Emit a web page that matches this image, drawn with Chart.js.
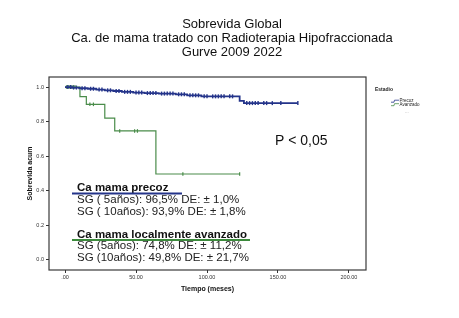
<!DOCTYPE html>
<html>
<head>
<meta charset="utf-8">
<script src="https://cdn.jsdelivr.net/npm/chart.js@4.4.1/dist/chart.umd.min.js"></script>
<style>
  html, body { margin: 0; padding: 0; background: #ffffff; }
  #contenedor { width: 459px; height: 318px; }
</style>
</head>
<body>
<div id="contenedor"><canvas id="graficoSobrevida" width="459" height="318"></canvas></div>
<script>
// curva Kaplan-Meier, estadio precoz (meses / sobrevida acumulada)
const precozTiempo = [0, 5, 10, 16, 22, 28, 34, 40, 48, 56, 66, 78, 86, 96, 123, 126, 164];
const precozSobrevida = [1.0, 0.997, 0.993, 0.99, 0.985, 0.981, 0.977, 0.972, 0.968, 0.965, 0.962, 0.958, 0.952, 0.946, 0.92, 0.907, 0.907];
const precozCensura = [2, 4, 6, 8, 12, 14, 18, 20, 24, 26, 30, 32, 36, 38, 42, 44, 46, 50, 52, 54, 58, 60, 62, 64, 68, 70, 72, 74, 76, 80, 82, 84, 88, 90, 92, 94, 98, 100, 104, 106, 108, 110, 112, 116, 118, 128, 130, 132, 134, 136, 140, 142, 146, 152, 164];

// estadio avanzado
const avanzadoTiempo = [0, 10.5, 15, 28, 35, 64, 123];
const avanzadoSobrevida = [1.0, 0.945, 0.90, 0.82, 0.746, 0.497, 0.497];
const avanzadoCensura = [1, 2, 3, 4, 5, 6, 7, 17.5, 20, 38.5, 49, 51, 83, 123];

const ticksX = [0, 50, 100, 150, 200];
const etiquetasX = ['.00', '50.00', '100.00', '150.00', '200.00'];
const ticksY = [0, 0.2, 0.4, 0.6, 0.8, 1.0];
const etiquetasY = ['0.0', '0.2', '0.4', '0.6', '0.8', '1.0'];

const titulo = ['Sobrevida Global', 'Ca. de mama tratado con Radioterapia Hipofraccionada', 'Gurve 2009 2022'];
const textoPrecoz = ['Ca mama precoz', 'SG ( 5años): 96,5% DE: ± 1,0%', 'SG ( 10años): 93,9% DE: ± 1,8%'];
const textoAvanzado = ['Ca mama localmente avanzado', 'SG (5años): 74,8% DE: ± 11,2%', 'SG (10años): 49,8% DE: ± 21,7%'];

const azul = '#24348a';
const verde = '#4a8c4a';
const fuente = '"Liberation Sans", Arial, sans-serif';

function valorEn(tiempos, valores, t){
    let v = valores[0];
    for (let i = 0; i < tiempos.length; i++) {
        if (tiempos[i] <= t) v = valores[i];
    }
    return v;
}

const curvaPrecoz = precozTiempo.map((t, i) => ({ x: t, y: precozSobrevida[i] }));
const curvaAvanzado = avanzadoTiempo.map((t, i) => ({ x: t, y: avanzadoSobrevida[i] }));
const marcasPrecoz = precozCensura.map(t => ({ x: t, y: valorEn(precozTiempo, precozSobrevida, t) }));
const marcasAvanzado = avanzadoCensura.map(t => ({ x: t, y: valorEn(avanzadoTiempo, avanzadoSobrevida, t) }));

const textos = {
    id: 'textos',
    afterDraw(chart){
        const ctx = chart.ctx;
        const a = chart.chartArea;
        ctx.save();

        // marco del grafico
        ctx.strokeStyle = '#3a3a3a';
        ctx.lineWidth = 1.2;
        ctx.strokeRect(a.left, a.top, a.right - a.left, a.bottom - a.top);

        // titulo
        ctx.fillStyle = '#111';
        ctx.textAlign = 'center';
        ctx.textBaseline = 'middle';
        ctx.font = '13px ' + fuente;
        titulo.forEach((t, i) => ctx.fillText(t, 232, 24 + i * 14.3));

        // p valor
        ctx.textAlign = 'left';
        ctx.font = '14px ' + fuente;
        ctx.fillText('P < 0,05', 275, 141);

        // bloques de texto
        ctx.textBaseline = 'alphabetic';
        ctx.font = 'bold 11.5px ' + fuente;
        ctx.fillText(textoPrecoz[0], 77, 191);
        ctx.fillText(textoAvanzado[0], 77, 237.5);
        ctx.font = '11.5px ' + fuente;
        ctx.fillStyle = '#222';
        ctx.fillText(textoPrecoz[1], 77, 203);
        ctx.fillText(textoPrecoz[2], 77, 214.5);
        ctx.fillText(textoAvanzado[1], 77, 249);
        ctx.fillText(textoAvanzado[2], 77, 261);

        ctx.lineWidth = 2;
        ctx.strokeStyle = azul;
        ctx.beginPath(); ctx.moveTo(72, 193.5); ctx.lineTo(182, 193.5); ctx.stroke();
        ctx.strokeStyle = '#3c8a3c';
        ctx.beginPath(); ctx.moveTo(72, 240); ctx.lineTo(250, 240); ctx.stroke();

        // leyenda
        ctx.fillStyle = '#222';
        ctx.font = 'bold 5px ' + fuente;
        ctx.textBaseline = 'middle';
        ctx.fillText('Estadio', 375, 90);
        ctx.font = '4.5px ' + fuente;
        [['Precoz', azul, 101], ['Avanzado', verde, 104.5]].forEach(function(e){
            ctx.strokeStyle = e[1];
            ctx.lineWidth = 0.8;
            ctx.beginPath();
            ctx.moveTo(391, e[2] + 1.2);
            ctx.lineTo(394, e[2] + 1.2);
            ctx.lineTo(394.5, e[2] - 0.8);
            ctx.lineTo(399, e[2] - 0.8);
            ctx.stroke();
            ctx.fillText(e[0], 399.5, e[2]);
        });
        ctx.fillStyle = '#999';
        ctx.fillText('...', 405, 112);

        ctx.restore();
    }
};

const ctx = document.getElementById('graficoSobrevida');

new Chart(ctx, {
    plugins: [textos],
    type: 'line',
    data: {
        datasets: [
            {
                label: 'Precoz',
                data: curvaPrecoz,
                stepped: 'before',
                borderColor: azul,
                borderWidth: 1.8,
                pointRadius: 0,
                fill: false
            },
            {
                label: 'Avanzado',
                data: curvaAvanzado,
                stepped: 'before',
                borderColor: verde,
                borderWidth: 1.2,
                pointRadius: 0,
                fill: false
            },
            {
                label: 'Precoz censurado',
                data: marcasPrecoz,
                showLine: false,
                pointStyle: 'line',
                rotation: 90,
                pointRadius: 2,
                borderColor: azul,
                borderWidth: 1.4
            },
            {
                label: 'Avanzado censurado',
                data: marcasAvanzado,
                showLine: false,
                pointStyle: 'line',
                rotation: 90,
                pointRadius: 1.8,
                borderColor: verde,
                borderWidth: 1.2
            }
        ]
    },
    options: {
        responsive: false,
        animation: false,
        layout: {
            padding: { left: 22, right: 93, top: 77, bottom: 23 }
        },
        plugins: {
            legend: { display: false },
            tooltip: { enabled: false },
            title: { display: false }
        },
        scales: {
            x: {
                type: 'linear',
                min: -11.3,
                max: 212,
                afterBuildTicks: s => { s.ticks = ticksX.map(v => ({ value: v })); },
                afterFit: s => { s.height = 25; },
                grid: { display: true, drawOnChartArea: false, drawTicks: true, tickLength: 3, color: '#333' },
                border: { display: false },
                ticks: {
                    padding: 1,
                    maxRotation: 0,
                    color: '#333',
                    font: { size: 5.5, family: fuente },
                    callback: (v) => etiquetasX[ticksX.indexOf(v)]
                },
                title: {
                    display: true,
                    text: 'Tiempo (meses)',
                    color: '#111',
                    font: { size: 7, weight: 'bold', family: fuente },
                    padding: { top: 2, bottom: 2 }
                }
            },
            y: {
                min: -0.058,
                max: 1.058,
                afterBuildTicks: s => { s.ticks = ticksY.map(v => ({ value: v })); },
                afterFit: s => { s.width = 27; },
                grid: { display: true, drawOnChartArea: false, drawTicks: true, tickLength: 3, color: '#333' },
                border: { display: false },
                ticks: {
                    padding: 2,
                    color: '#333',
                    font: { size: 5.5, family: fuente },
                    callback: (v) => etiquetasY[ticksY.indexOf(v)]
                },
                title: {
                    display: true,
                    text: 'Sobrevida acum',
                    color: '#111',
                    font: { size: 7, weight: 'bold', family: fuente },
                    padding: { top: 4, bottom: 0 }
                }
            }
        }
    }
});
</script>
</body>
</html>
